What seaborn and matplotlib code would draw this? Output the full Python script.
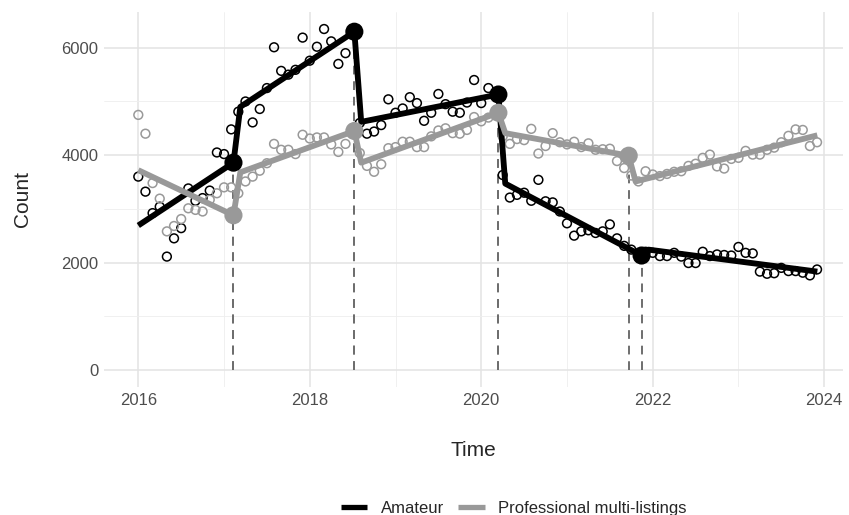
import numpy as np
import pandas as pd
import matplotlib
matplotlib.use("Agg")
import matplotlib.pyplot as plt
import seaborn as sns

# monthly counts, Jan 2016 .. Dec 2023
amateur = [3600, 3320, 2920, 3040, 2110, 2450, 2640, 3380, 3150, 3200, 3340, 4050,
           4020, 4480, 4810, 5000, 4610, 4860, 5250, 6010, 5570, 5500, 5590, 6190,
           5760, 6020, 6350, 6120, 5700, 5900, 6250, 4600, 4400, 4440, 4560, 5040,
           4790, 4870, 5080, 4970, 4640, 4790, 5140, 4950, 4810, 4790, 4980, 5400,
           4970, 5250, 5100, 3630, 3210, 3260, 3300, 3150, 3540, 3140, 3120, 2950,
           2730, 2500, 2580, 2600, 2550, 2580, 2710, 2450, 2310, 2240, 2150, 2200,
           2180, 2120, 2120, 2180, 2110, 1990, 1990, 2200, 2120, 2150, 2140, 2130,
           2290, 2180, 2170, 1830, 1790, 1800, 1900, 1840, 1840, 1810, 1760, 1870]
professional = [4750, 4400, 3480, 3190, 2580, 2680, 2810, 3010, 2980, 2950, 3170, 3290,
                3400, 3400, 3290, 3510, 3600, 3710, 3850, 4210, 4100, 4100, 4020, 4380,
                4310, 4330, 4330, 4200, 4060, 4210, 4480, 4040, 3800, 3690, 3830, 4130,
                4150, 4250, 4250, 4150, 4150, 4350, 4460, 4500, 4410, 4400, 4470, 4710,
                4630, 4700, 4750, 4350, 4210, 4300, 4280, 4490, 4030, 4170, 4410, 4240,
                4200, 4250, 4150, 4220, 4100, 4110, 4120, 3890, 3760, 3620, 3510, 3700,
                3640, 3610, 3650, 3690, 3700, 3800, 3840, 3950, 4010, 3790, 3750, 3930,
                3950, 4080, 4010, 4010, 4100, 4140, 4240, 4360, 4480, 4470, 4170, 4240]

# segmented fit, vertices (decimal year, count)
fit_ama_x = [2016.0, 2017.11, 2017.19, 2018.52, 2018.60, 2020.20, 2020.28, 2021.87, 2021.95, 2023.92]
fit_ama_y = [2690, 3860, 4900, 6300, 4620, 5130, 3470, 2130, 2240, 1830]
fit_pro_x = [2016.0, 2017.11, 2017.19, 2018.52, 2018.60, 2020.20, 2020.28, 2021.72, 2021.80, 2023.92]
fit_pro_y = [3720, 2880, 3680, 4450, 3860, 4790, 4410, 3990, 3510, 4370]

# breakpoints
bp_ama_x = [2017.11, 2018.52, 2020.20, 2021.87]
bp_ama_y = [3860, 6300, 5130, 2130]
bp_pro_x = [2017.11, 2018.52, 2020.20, 2021.72]
bp_pro_y = [2880, 4450, 4790, 3990]

groups = ["Amateur", "Professional multi-listings"]
colors = {"Amateur": "#000000", "Professional multi-listings": "#999999"}

months = pd.date_range("2016-01-01", periods=96, freq="MS")
t = months.year + (months.month - 1) / 12
df = pd.DataFrame({
    "Time": np.concatenate([t, t]),
    "Count": amateur + professional,
    "group": [groups[0]] * 96 + [groups[1]] * 96,
})
fit = pd.DataFrame({
    "Time": fit_ama_x + fit_pro_x,
    "Count": fit_ama_y + fit_pro_y,
    "group": [groups[0]] * len(fit_ama_x) + [groups[1]] * len(fit_pro_x),
})
bps = pd.DataFrame({
    "Time": bp_ama_x + bp_pro_x,
    "Count": bp_ama_y + bp_pro_y,
    "group": [groups[0]] * len(bp_ama_x) + [groups[1]] * len(bp_pro_x),
})

sns.set_style("whitegrid")
plt.rcParams["font.family"] = ["Liberation Sans", "DejaVu Sans"]

fig = plt.figure(figsize=(8.49, 5.15), dpi=100)
ax = fig.add_axes([0.1225, 0.2485, 0.8705, 0.7285])

# dashed breakpoint lines
ax.vlines(bps["Time"], 0, bps["Count"], colors="#6e6e6e", linestyles=(0, (4.5, 3.5)),
          linewidth=1.4, zorder=1.5)

for g in groups:
    sub = df[df["group"] == g]
    sns.scatterplot(data=sub, x="Time", y="Count", ax=ax, marker="o", s=40,
                    facecolor="none", edgecolor=colors[g], linewidth=1.1,
                    legend=False, zorder=2)

sns.lineplot(data=fit, x="Time", y="Count", hue="group", hue_order=groups,
             palette=colors, linewidth=4.2, sort=False, estimator=None, ax=ax,
             zorder=3, solid_capstyle="butt")

for g in groups:
    sub = bps[bps["group"] == g]
    sns.scatterplot(data=sub, x="Time", y="Count", ax=ax, s=170, color=colors[g],
                    edgecolor="none", legend=False, zorder=4)

ax.set_xlim(2015.6, 2024.22)
ax.set_ylim(-320, 6670)
ax.set_xticks([2016, 2018, 2020, 2022, 2024])
ax.set_xticks([2017, 2019, 2021, 2023], minor=True)
ax.set_yticks([0, 2000, 4000, 6000])
ax.set_yticks([1000, 3000, 5000], minor=True)
ax.grid(which="major", color="#e3e3e3", linewidth=1.1)
ax.grid(which="minor", color="#eeeeee", linewidth=0.6)
for s in ax.spines.values():
    s.set_visible(False)
ax.tick_params(axis="both", which="both", length=0, labelsize=12,
               labelcolor="#4d4d4d", pad=4)
ax.set_xlabel("Time", fontsize=15, labelpad=24)
ax.set_ylabel("Count", fontsize=15, labelpad=21)

handles, labels = ax.get_legend_handles_labels()
for h in handles:
    h.set_linewidth(3.8)
    h.set_solid_capstyle("butt")
ax.get_legend().remove()
fig.legend(handles, labels, loc="center left", bbox_to_anchor=(334 / 849, 0.013),
           ncol=2, frameon=False, fontsize=12, handlelength=1.6,
           columnspacing=0.85, handletextpad=0.8, borderaxespad=0)

fig.savefig("out.png", dpi=100)
